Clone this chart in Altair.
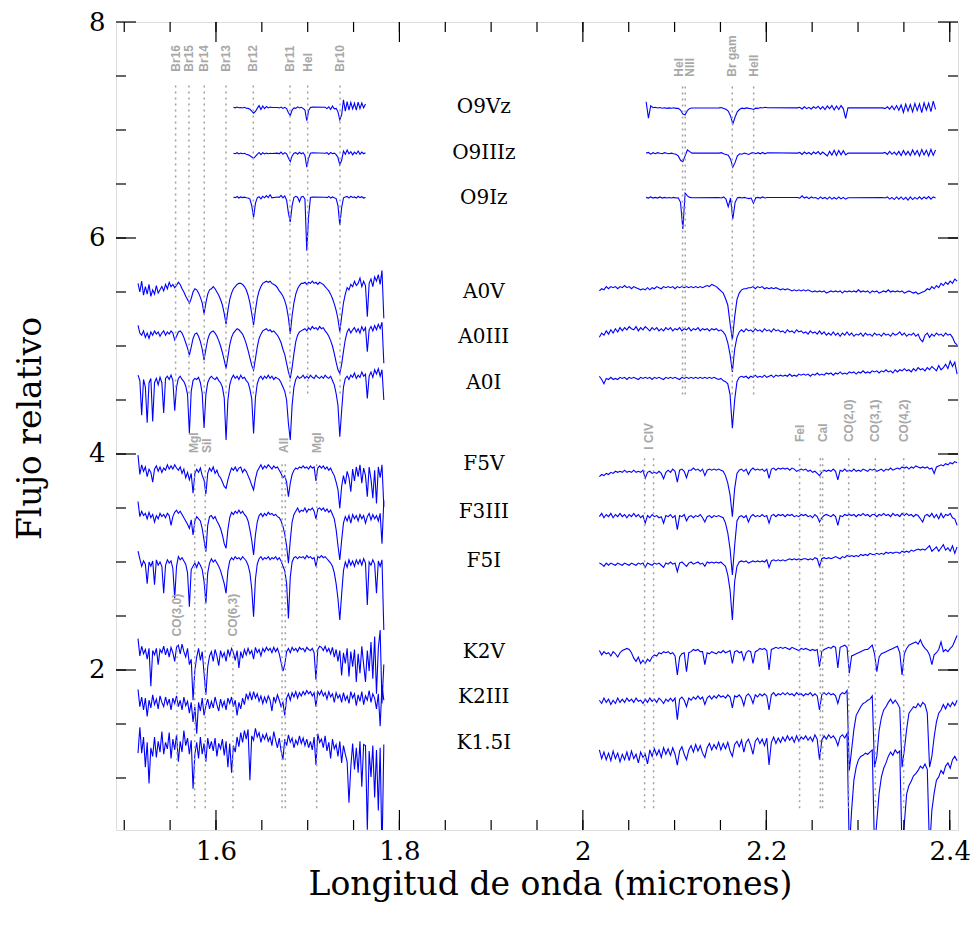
import altair as alt
import pandas as pd

# ---------------- wavelength grids (microns) ----------------
H_LAM = [
 1.515,1.517,1.519,1.521,1.523,1.525,1.527,1.529,1.531,1.533,
 1.535,1.537,1.539,1.541,1.543,1.545,1.547,1.549,1.551,1.553,
 1.555,1.557,1.559,1.561,1.563,1.565,1.567,1.569,1.571,1.573,
 1.575,1.577,1.579,1.581,1.583,1.585,1.587,1.589,1.591,1.593,
 1.595,1.597,1.599,1.601,1.603,1.605,1.607,1.609,1.611,1.613,
 1.615,1.617,1.619,1.621,1.623,1.625,1.627,1.629,1.631,1.633,
 1.635,1.637,1.639,1.641,1.643,1.645,1.647,1.649,1.651,1.653,
 1.655,1.657,1.659,1.661,1.663,1.665,1.667,1.669,1.671,1.673,
 1.675,1.677,1.679,1.681,1.683,1.685,1.687,1.689,1.691,1.693,
 1.695,1.697,1.699,1.701,1.703,1.705,1.707,1.709,1.711,1.713,
 1.715,1.717,1.719,1.721,1.723,1.725,1.727,1.729,1.731,1.733,
 1.735,1.737,1.739,1.741,1.743,1.745,1.747,1.749,1.751,1.753,
 1.755,1.757,1.759,1.761,1.763,1.765,1.767,1.769,1.771,1.773,
 1.775,1.777,1.779,1.781,1.783]

K_LAM = [
 2.018,2.0205,2.023,2.0255,2.028,2.0305,2.033,2.0355,2.038,2.0405,
 2.043,2.0455,2.048,2.0505,2.053,2.0555,2.058,2.0605,2.063,2.0655,
 2.068,2.0705,2.073,2.0755,2.078,2.0805,2.083,2.0855,2.088,2.0905,
 2.093,2.0955,2.098,2.1005,2.103,2.1055,2.108,2.1105,2.113,2.1155,
 2.118,2.1205,2.123,2.1255,2.128,2.1305,2.133,2.1355,2.138,2.1405,
 2.143,2.1455,2.148,2.1505,2.153,2.1555,2.158,2.1605,2.163,2.1655,
 2.168,2.1705,2.173,2.1755,2.178,2.1805,2.183,2.1855,2.188,2.1905,
 2.193,2.1955,2.198,2.2005,2.203,2.2055,2.208,2.2105,2.213,2.2155,
 2.218,2.2205,2.223,2.2255,2.228,2.2305,2.233,2.2355,2.238,2.2405,
 2.243,2.2455,2.248,2.2505,2.253,2.2555,2.258,2.2605,2.263,2.2655,
 2.268,2.2705,2.273,2.2755,2.278,2.2805,2.283,2.2855,2.288,2.2905,
 2.293,2.2955,2.298,2.3005,2.303,2.3055,2.308,2.3105,2.313,2.3155,
 2.318,2.3205,2.323,2.3255,2.328,2.3305,2.333,2.3355,2.338,2.3405,
 2.343,2.3455,2.348,2.3505,2.353,2.3555,2.358,2.3605,2.363,2.3655,
 2.368,2.3705,2.373,2.3755,2.378,2.3805,2.383,2.3855,2.388,2.3905,
 2.393,2.3955,2.398,2.4005,2.403,2.4055,2.408]

OH_LAM = [
 1.619,1.621,1.623,1.625,1.627,1.629,1.631,1.633,1.635,1.637,1.639,1.641,1.643,1.645,1.647,1.649,1.651,1.653,1.655,1.657,1.659,1.661,
 1.667,1.669,1.671,1.673,1.675,1.677,1.679,1.681,1.683,1.685,1.687,1.689,1.691,1.693,1.695,1.697,1.699,1.701,1.703,1.705,
 1.719,1.721,1.723,1.725,1.727,1.729,1.731,1.733,1.735,1.737,1.739,1.741,1.743,1.745,1.747,1.749,1.751,1.753,1.755,1.757,1.759,1.761,1.763]

OK_LAM = [
 2.069,2.0715,2.074,2.0765,2.079,2.0815,2.084,2.0865,2.089,2.0915,2.094,2.0965,2.099,2.1015,2.104,2.1065,2.109,2.1115,2.114,2.1165,2.119,
 2.1485,2.151,2.1535,2.156,2.1585,2.161,2.1635,2.166,2.1685,2.171,2.1735,2.176,2.1785,2.181,2.1835,2.186,2.1885,2.191,2.1935,2.196,2.1985,2.201,
 2.234,2.2365,2.239,2.2415,2.244,2.2465,2.249,2.2515,2.254,2.2565,2.259,2.2615,2.264,2.2665,2.269,2.2715,2.274,2.2765,2.279,2.2815,2.284,2.2865,2.289,
 2.327,2.3295,2.332,2.3345,2.337,2.3395,2.342,2.3445,2.347,2.3495,2.352,2.3545,2.357,2.3595,2.362,2.3645,2.367,2.3695,2.372,2.3745,2.377,2.3795,2.382,2.3845]

# ---------------- O stars (offset flux) ----------------
O9VZ_H = [
 7.210,7.205,7.212,7.206,7.208,7.204,7.210,7.202,7.200,7.192,7.175,7.155,7.172,7.200,7.225,7.190,7.222,7.198,7.218,7.204,7.212,7.208,
 7.208,7.204,7.212,7.200,7.210,7.198,7.160,7.135,7.185,7.205,7.200,7.214,7.204,7.210,7.200,7.185,7.086,7.180,7.208,7.212,
 7.210,7.198,7.215,7.190,7.222,7.196,7.200,7.168,7.095,7.140,7.280,7.175,7.262,7.185,7.255,7.195,7.248,7.185,7.258,7.198,7.250,7.205,7.240]
O9IIIZ_H = [
 6.785,6.780,6.790,6.778,6.786,6.780,6.784,6.776,6.770,6.762,6.750,6.738,6.755,6.775,6.792,6.772,6.790,6.778,6.786,6.780,6.785,6.782,
 6.786,6.780,6.795,6.775,6.790,6.780,6.740,6.707,6.760,6.785,6.790,6.776,6.794,6.780,6.790,6.765,6.655,6.740,6.785,6.790,
 6.785,6.790,6.774,6.792,6.780,6.786,6.772,6.745,6.676,6.720,6.805,6.775,6.815,6.780,6.800,6.770,6.795,6.778,6.805,6.775,6.795,6.780,6.790]
O9IZ_H = [
 6.378,6.374,6.384,6.370,6.380,6.374,6.378,6.372,6.370,6.360,6.300,6.190,6.320,6.372,6.382,6.362,6.386,6.372,6.392,6.374,6.400,6.372,
 6.380,6.376,6.394,6.372,6.390,6.350,6.230,6.148,6.300,6.375,6.386,6.378,6.336,6.380,6.386,6.360,5.883,6.200,6.375,6.380,
 6.378,6.374,6.385,6.370,6.380,6.372,6.365,6.300,6.120,6.280,6.372,6.380,6.385,6.370,6.386,6.375,6.380,6.370,6.386,6.374,6.382,6.370,6.376]

O9VZ_K = [
 7.262,7.110,7.225,7.206,7.210,7.204,7.208,7.202,7.206,7.200,7.205,7.202,7.206,7.200,7.200,7.185,7.148,7.140,7.180,7.200,7.204,
 7.205,7.208,7.200,7.192,7.175,7.130,7.056,7.120,7.170,7.192,7.202,7.198,7.205,7.200,7.196,7.190,7.202,7.200,7.208,7.204,7.210,7.206,
 7.205,7.210,7.195,7.215,7.198,7.210,7.195,7.215,7.200,7.220,7.194,7.216,7.190,7.222,7.198,7.226,7.186,7.222,7.190,7.226,7.196,7.108,7.205,
 7.205,7.198,7.215,7.194,7.222,7.188,7.226,7.184,7.232,7.162,7.240,7.175,7.236,7.168,7.246,7.180,7.242,7.160,7.252,7.185,7.248,7.170,7.268,7.190]
O9IIIZ_K = [
 6.786,6.792,6.776,6.790,6.780,6.790,6.784,6.780,6.790,6.784,6.780,6.786,6.780,6.776,6.760,6.720,6.707,6.760,6.815,6.800,6.786,
 6.786,6.790,6.780,6.774,6.766,6.730,6.655,6.700,6.760,6.780,6.776,6.786,6.780,6.774,6.786,6.790,6.780,6.790,6.780,6.792,6.780,6.790,
 6.786,6.792,6.774,6.796,6.780,6.792,6.774,6.796,6.780,6.800,6.774,6.796,6.778,6.760,6.802,6.768,6.812,6.764,6.810,6.770,6.808,6.770,6.786,
 6.786,6.792,6.774,6.802,6.775,6.796,6.770,6.802,6.764,6.810,6.770,6.802,6.764,6.815,6.770,6.810,6.760,6.820,6.770,6.812,6.760,6.820,6.765,6.815]
O9IZ_K = [
 6.376,6.370,6.380,6.370,6.376,6.370,6.380,6.370,6.376,6.370,6.375,6.370,6.376,6.370,6.372,6.330,6.083,6.415,6.390,6.376,6.372,
 6.375,6.370,6.380,6.360,6.290,6.370,6.176,6.330,6.372,6.376,6.370,6.376,6.370,6.365,6.370,6.320,6.372,6.376,6.370,6.380,6.370,6.375,
 6.375,6.370,6.390,6.370,6.380,6.365,6.380,6.370,6.375,6.360,6.380,6.365,6.375,6.360,6.380,6.360,6.375,6.360,6.380,6.362,6.376,6.360,6.372,
 6.375,6.370,6.380,6.360,6.376,6.356,6.380,6.360,6.380,6.356,6.376,6.350,6.380,6.356,6.376,6.360,6.382,6.360,6.380,6.364,6.384,6.360,6.380,6.370]

# ---------------- A stars ----------------
A0V_H = [
 5.58,5.50,5.60,5.47,5.55,5.48,5.57,5.46,5.52,5.48,
 5.56,5.49,5.52,5.55,5.51,5.57,5.53,5.59,5.55,5.57,
 5.54,5.56,5.59,5.57,5.53,5.50,5.46,5.43,5.395,5.44,
 5.50,5.53,5.52,5.49,5.45,5.40,5.30,5.40,5.48,5.52,
 5.53,5.55,5.53,5.50,5.47,5.43,5.38,5.30,5.203,5.33,
 5.43,5.49,5.53,5.55,5.57,5.58,5.58,5.57,5.55,5.52,
 5.47,5.40,5.30,5.194,5.33,5.44,5.51,5.55,5.58,5.59,
 5.60,5.59,5.60,5.58,5.57,5.56,5.54,5.51,5.49,5.46,
 5.42,5.36,5.26,5.111,5.28,5.40,5.48,5.53,5.56,5.58,
 5.58,5.59,5.57,5.59,5.58,5.60,5.58,5.59,5.57,5.59,
 5.58,5.57,5.55,5.53,5.51,5.48,5.44,5.39,5.33,5.25,
 5.132,5.27,5.40,5.48,5.54,5.52,5.57,5.55,5.60,5.56,
 5.58,5.63,5.55,5.60,5.56,5.271,5.58,5.62,5.55,5.64,
 5.60,5.66,5.57,5.70,5.256]
A0III_H = [
 5.19,5.12,5.10,5.14,5.08,5.12,5.07,5.13,5.10,5.14,
 5.11,5.13,5.09,5.12,5.14,5.10,5.13,5.11,5.14,5.12,
 5.056,5.09,5.13,5.14,5.12,5.08,5.03,4.98,4.916,4.99,
 5.07,5.11,5.12,5.09,5.04,4.97,4.87,4.97,5.06,5.11,
 5.13,5.14,5.12,5.09,5.05,5.00,4.94,4.87,4.793,4.90,
 5.01,5.08,5.12,5.14,5.16,5.15,5.13,5.11,5.07,5.02,
 4.96,4.89,4.82,4.777,4.88,4.99,5.07,5.11,5.14,5.15,
 5.16,5.14,5.15,5.13,5.14,5.12,5.10,5.07,5.03,4.97,
 4.92,4.84,4.76,4.70,4.80,4.93,5.04,5.10,5.13,5.14,
 5.15,5.16,5.14,5.17,5.15,5.18,5.16,5.17,5.15,5.18,
 5.16,5.17,5.14,5.12,5.09,5.05,5.00,4.93,4.85,4.78,
 4.747,4.83,4.95,5.06,5.13,5.16,5.12,5.15,5.17,5.13,
 5.16,5.12,5.18,5.14,5.17,4.947,5.15,5.18,5.14,5.19,
 5.15,5.20,5.16,5.22,4.84]
A0I_H = [
 4.73,4.68,4.36,4.69,4.62,4.29,4.66,4.70,4.30,4.66,
 4.70,4.64,4.71,4.66,4.38,4.70,4.72,4.69,4.73,4.68,
 4.40,4.62,4.70,4.72,4.69,4.67,4.63,4.55,4.19,4.58,
 4.68,4.70,4.69,4.71,4.66,4.56,4.24,4.55,4.66,4.70,
 4.72,4.70,4.69,4.71,4.68,4.66,4.62,4.52,4.13,4.50,
 4.64,4.70,4.73,4.70,4.72,4.69,4.73,4.70,4.71,4.68,
 4.66,4.60,4.51,4.19,4.52,4.65,4.70,4.72,4.69,4.72,
 4.70,4.73,4.70,4.72,4.69,4.71,4.70,4.69,4.66,4.62,
 4.58,4.50,4.28,4.13,4.45,4.62,4.69,4.72,4.70,4.71,
 4.73,4.70,4.72,4.70,4.73,4.71,4.70,4.73,4.71,4.70,
 4.72,4.70,4.73,4.71,4.70,4.72,4.68,4.64,4.56,4.45,
 4.16,4.40,4.62,4.70,4.72,4.69,4.73,4.71,4.75,4.70,
 4.73,4.71,4.76,4.72,4.74,4.515,4.72,4.76,4.71,4.78,
 4.74,4.79,4.72,4.78,4.50]
A0V_K = [
 5.51,5.53,5.52,5.55,5.53,5.55,5.54,5.55,5.53,5.55,
 5.54,5.56,5.54,5.55,5.53,5.55,5.54,5.53,5.52,5.53,
 5.52,5.54,5.52,5.54,5.53,5.55,5.54,5.53,5.55,5.54,
 5.55,5.54,5.55,5.53,5.55,5.54,5.55,5.54,5.55,5.54,
 5.55,5.54,5.55,5.54,5.55,5.54,5.55,5.56,5.55,5.57,
 5.56,5.55,5.53,5.51,5.49,5.44,5.38,5.21,5.056,5.27,
 5.43,5.49,5.52,5.53,5.53,5.54,5.54,5.55,5.53,5.55,
 5.54,5.55,5.53,5.54,5.53,5.54,5.53,5.54,5.53,5.52,
 5.53,5.52,5.53,5.52,5.51,5.52,5.51,5.52,5.51,5.52,
 5.51,5.52,5.51,5.50,5.51,5.50,5.51,5.50,5.51,5.49,
 5.50,5.51,5.50,5.51,5.50,5.51,5.49,5.51,5.50,5.51,
 5.50,5.51,5.50,5.52,5.50,5.51,5.50,5.51,5.49,5.51,
 5.50,5.51,5.49,5.50,5.51,5.50,5.52,5.50,5.51,5.50,
 5.51,5.50,5.51,5.49,5.50,5.51,5.50,5.49,5.50,5.48,
 5.49,5.50,5.51,5.53,5.52,5.55,5.53,5.56,5.54,5.58,
 5.56,5.59,5.57,5.60,5.58,5.62,5.60]
A0III_K = [
 5.08,5.12,5.10,5.14,5.11,5.15,5.12,5.16,5.13,5.17,
 5.14,5.17,5.15,5.18,5.16,5.15,5.18,5.14,5.17,5.15,
 5.18,5.16,5.14,5.17,5.15,5.17,5.14,5.16,5.14,5.17,
 5.15,5.17,5.14,5.16,5.15,5.17,5.14,5.16,5.15,5.17,
 5.14,5.16,5.15,5.17,5.14,5.16,5.15,5.16,5.14,5.16,
 5.15,5.16,5.14,5.15,5.13,5.10,5.03,4.92,4.76,4.97,
 5.08,5.13,5.15,5.13,5.16,5.14,5.15,5.13,5.16,5.14,
 5.15,5.13,5.16,5.14,5.15,5.13,5.16,5.14,5.15,5.13,
 5.14,5.12,5.15,5.13,5.14,5.12,5.15,5.13,5.14,5.12,
 5.13,5.11,5.14,5.12,5.13,5.11,5.14,5.11,5.13,5.10,
 5.12,5.10,5.13,5.10,5.12,5.09,5.12,5.10,5.13,5.10,
 5.12,5.09,5.11,5.10,5.12,5.09,5.12,5.10,5.11,5.09,
 5.12,5.10,5.11,5.09,5.12,5.10,5.11,5.09,5.12,5.10,
 5.11,5.13,5.10,5.12,5.09,5.11,5.10,5.12,5.09,5.11,
 5.06,5.04,5.10,5.12,5.08,5.11,5.09,5.12,5.10,5.11,
 5.09,5.12,5.10,5.11,5.08,5.03,5.01]
A0I_K = [
 4.72,4.69,4.65,4.70,4.69,4.71,4.69,4.70,4.69,4.71,
 4.70,4.71,4.69,4.71,4.70,4.71,4.70,4.69,4.71,4.70,
 4.71,4.70,4.71,4.69,4.71,4.70,4.71,4.70,4.69,4.71,
 4.70,4.71,4.70,4.71,4.70,4.69,4.71,4.70,4.71,4.70,
 4.71,4.70,4.71,4.70,4.71,4.70,4.71,4.70,4.71,4.70,
 4.71,4.70,4.69,4.70,4.68,4.67,4.65,4.55,4.238,4.50,
 4.67,4.71,4.72,4.71,4.72,4.70,4.72,4.71,4.73,4.71,
 4.72,4.71,4.73,4.71,4.72,4.73,4.71,4.73,4.72,4.73,
 4.72,4.73,4.72,4.74,4.72,4.73,4.72,4.74,4.73,4.74,
 4.73,4.74,4.72,4.74,4.73,4.75,4.73,4.74,4.73,4.75,
 4.74,4.75,4.73,4.75,4.74,4.76,4.74,4.75,4.74,4.76,
 4.75,4.76,4.74,4.76,4.75,4.77,4.75,4.76,4.75,4.77,
 4.76,4.77,4.75,4.77,4.76,4.78,4.76,4.77,4.75,4.78,
 4.76,4.78,4.77,4.79,4.77,4.78,4.76,4.79,4.77,4.80,
 4.78,4.79,4.77,4.80,4.78,4.81,4.79,4.77,4.82,4.78,
 4.80,4.83,4.79,4.86,4.81,4.85,4.74]

# ---------------- F stars ----------------
F5V_H = [
 3.99,3.81,3.90,3.84,3.88,3.79,3.86,3.83,3.74,3.86,
 3.89,3.84,3.88,3.83,3.87,3.85,3.90,3.86,3.89,3.86,
 3.90,3.87,3.85,3.88,3.82,3.86,3.78,3.83,3.76,3.82,
 3.636,3.82,3.86,3.83,3.87,3.80,3.76,3.63,3.82,3.87,
 3.84,3.88,3.82,3.85,3.80,3.78,3.74,3.70,3.682,3.76,
 3.82,3.87,3.85,3.88,3.84,3.87,3.88,3.83,3.86,3.84,
 3.80,3.76,3.71,3.667,3.77,3.84,3.87,3.90,3.86,3.89,
 3.87,3.90,3.88,3.86,3.89,3.87,3.88,3.85,3.82,3.78,
 3.80,3.74,3.605,3.73,3.81,3.85,3.87,3.86,3.88,3.87,
 3.89,3.87,3.88,3.86,3.89,3.87,3.88,3.75,3.87,3.89,
 3.87,3.89,3.86,3.88,3.85,3.87,3.83,3.80,3.74,3.67,
 3.497,3.70,3.80,3.72,3.84,3.78,3.651,3.86,3.75,3.88,
 3.79,3.90,3.73,3.87,3.80,3.605,3.88,3.77,3.59,3.85,
 3.543,3.88,3.78,3.90,3.512]
F3III_H = [
 3.56,3.42,3.47,3.43,3.45,3.40,3.46,3.41,3.44,3.37,
 3.43,3.40,3.45,3.42,3.44,3.41,3.45,3.43,3.34,3.42,
 3.46,3.48,3.45,3.47,3.44,3.41,3.38,3.35,3.31,3.39,
 3.25,3.38,3.42,3.40,3.38,3.31,3.20,3.096,3.34,3.42,
 3.43,3.40,3.42,3.38,3.35,3.31,3.25,3.17,3.127,3.30,
 3.41,3.46,3.44,3.47,3.45,3.48,3.45,3.47,3.44,3.42,
 3.38,3.30,3.20,3.065,3.25,3.37,3.43,3.45,3.42,3.45,
 3.43,3.46,3.44,3.45,3.43,3.44,3.42,3.41,3.38,3.33,
 3.26,3.15,2.988,3.20,3.37,3.44,3.47,3.50,3.46,3.48,
 3.47,3.50,3.46,3.49,3.48,3.50,3.47,3.40,3.49,3.50,
 3.48,3.50,3.47,3.49,3.46,3.48,3.44,3.40,3.30,3.15,
 3.02,3.20,3.36,3.42,3.38,3.43,3.36,3.44,3.40,3.43,
 3.38,3.44,3.40,3.43,3.36,3.42,3.45,3.39,3.44,3.40,
 3.43,3.38,3.45,3.17,3.57]
F5I_H = [
 3.10,3.03,2.96,3.01,2.98,2.80,3.00,2.96,3.01,2.79,
 3.02,2.97,3.00,2.96,2.71,2.97,3.02,2.99,3.01,2.94,
 2.664,2.96,3.05,3.02,3.04,3.01,2.98,2.90,2.586,2.93,
 2.96,2.99,2.95,3.00,2.97,2.93,2.82,2.617,2.90,2.99,
 3.03,3.00,3.02,2.99,2.96,2.92,2.86,2.80,2.71,2.92,
 3.01,3.04,3.02,3.05,3.03,3.04,3.02,3.05,3.03,3.01,
 2.97,2.90,2.75,2.494,2.84,2.98,3.03,3.05,3.02,3.04,
 3.03,3.05,3.02,3.04,3.03,3.05,3.02,3.04,3.01,2.96,
 2.92,2.80,2.478,2.86,3.00,3.04,3.05,3.03,3.05,3.04,
 3.05,3.03,3.06,3.04,3.05,3.03,3.04,2.96,3.05,3.04,
 3.06,3.04,3.05,3.03,3.01,2.99,2.96,2.90,2.80,2.66,
 2.463,2.70,2.92,3.00,2.95,3.02,2.97,3.01,2.96,3.02,
 2.98,3.02,2.97,3.03,2.99,2.602,3.00,2.97,3.02,2.98,
 2.71,3.01,2.96,3.02,2.37]
F5V_K = [
 3.79,3.81,3.80,3.82,3.81,3.83,3.82,3.84,3.83,3.84,
 3.83,3.85,3.83,3.84,3.83,3.85,3.83,3.84,3.83,3.85,
 3.775,3.83,3.84,3.82,3.83,3.82,3.84,3.82,3.77,3.83,
 3.85,3.83,3.86,3.84,3.74,3.85,3.86,3.84,3.78,3.85,
 3.85,3.87,3.85,3.86,3.84,3.86,3.80,3.85,3.86,3.85,
 3.86,3.85,3.86,3.85,3.84,3.80,3.73,3.62,3.42,3.68,
 3.82,3.85,3.86,3.84,3.86,3.81,3.85,3.87,3.85,3.86,
 3.85,3.86,3.84,3.86,3.775,3.86,3.87,3.85,3.87,3.86,
 3.87,3.86,3.87,3.85,3.87,3.86,3.84,3.85,3.86,3.85,
 3.86,3.84,3.85,3.83,3.84,3.82,3.80,3.83,3.85,3.84,
 3.85,3.84,3.86,3.84,3.76,3.85,3.84,3.86,3.84,3.85,
 3.84,3.86,3.84,3.85,3.84,3.86,3.85,3.84,3.86,3.85,
 3.86,3.84,3.85,3.86,3.84,3.86,3.85,3.87,3.85,3.86,
 3.87,3.86,3.88,3.87,3.88,3.86,3.88,3.87,3.89,3.88,
 3.87,3.88,3.87,3.88,3.86,3.87,3.82,3.88,3.89,3.90,
 3.89,3.91,3.90,3.92,3.91,3.93,3.92]
F3III_K = [
 3.42,3.45,3.41,3.44,3.42,3.45,3.41,3.44,3.42,3.45,
 3.42,3.44,3.41,3.44,3.42,3.45,3.42,3.44,3.41,3.43,
 3.36,3.43,3.41,3.44,3.42,3.43,3.41,3.42,3.36,3.43,
 3.42,3.44,3.41,3.43,3.30,3.43,3.42,3.44,3.38,3.42,
 3.43,3.41,3.43,3.42,3.44,3.41,3.37,3.42,3.43,3.41,
 3.43,3.42,3.43,3.42,3.41,3.36,3.27,3.12,2.88,3.15,
 3.38,3.42,3.43,3.41,3.43,3.37,3.42,3.44,3.42,3.43,
 3.42,3.44,3.42,3.43,3.36,3.43,3.44,3.42,3.44,3.43,
 3.44,3.42,3.44,3.43,3.44,3.42,3.43,3.42,3.44,3.43,
 3.44,3.42,3.43,3.41,3.44,3.42,3.37,3.41,3.43,3.44,
 3.43,3.42,3.44,3.42,3.34,3.43,3.42,3.44,3.43,3.44,
 3.43,3.44,3.42,3.44,3.43,3.45,3.43,3.44,3.42,3.44,
 3.44,3.42,3.44,3.43,3.45,3.43,3.44,3.42,3.45,3.43,
 3.44,3.42,3.45,3.43,3.45,3.43,3.44,3.42,3.44,3.43,
 3.40,3.37,3.43,3.44,3.42,3.45,3.41,3.44,3.40,3.45,
 3.41,3.44,3.43,3.45,3.41,3.40,3.34]
F5I_K = [
 2.99,2.98,2.96,2.99,2.97,2.99,2.98,2.97,2.99,2.98,
 2.97,2.99,2.98,2.97,2.99,2.98,2.97,2.99,2.98,2.99,
 2.95,2.99,2.98,2.97,2.99,2.98,2.99,2.97,2.95,2.99,
 2.98,3.00,2.98,2.99,2.91,2.99,3.00,2.98,2.96,2.99,
 3.00,2.98,2.99,3.00,2.98,2.99,2.96,3.00,2.99,3.00,
 2.99,3.00,2.99,3.00,2.98,2.96,2.88,2.74,2.463,2.82,
 2.96,3.00,3.01,3.00,3.01,2.99,3.00,3.01,3.00,3.01,
 3.00,3.01,3.00,3.02,2.95,3.01,3.02,3.01,3.02,3.01,
 3.02,3.01,3.02,3.03,3.02,3.03,3.02,3.03,3.02,3.03,
 3.03,3.02,3.03,3.02,3.04,3.03,2.96,3.03,3.04,3.03,
 3.04,3.03,3.04,3.05,3.04,3.03,3.05,3.04,3.06,3.05,
 3.06,3.05,3.06,3.05,3.07,3.06,3.07,3.06,3.08,3.07,
 3.07,3.08,3.07,3.08,3.07,3.09,3.08,3.09,3.08,3.09,
 3.09,3.08,3.10,3.09,3.10,3.09,3.11,3.10,3.11,3.12,
 3.11,3.12,3.11,3.13,3.15,3.10,3.12,3.14,3.10,3.13,
 3.16,3.11,3.13,3.10,3.15,3.08,3.14]

# ---------------- K stars ----------------
K2V_H = [
 2.29,2.13,2.22,2.15,2.19,2.10,2.20,1.85,2.18,2.14,
 2.20,2.05,2.19,2.16,2.22,2.14,2.20,2.12,2.21,2.16,
 2.08,2.21,2.23,2.15,2.24,2.17,2.12,2.20,2.05,2.10,
 1.72,2.00,2.12,2.20,2.09,2.17,1.97,1.77,2.03,2.13,
 2.17,2.08,2.19,2.13,2.04,2.18,2.12,2.16,2.08,2.19,
 2.13,2.20,2.16,2.09,2.18,2.02,2.17,2.11,2.19,2.14,
 2.20,2.15,2.18,2.10,2.21,2.16,2.19,2.13,2.20,2.17,
 2.21,2.18,2.20,2.16,2.21,2.17,2.20,2.15,2.07,1.99,
 2.05,2.17,2.20,2.16,2.21,2.18,2.20,2.17,2.21,2.19,
 2.20,2.17,2.21,2.19,2.18,2.20,2.16,1.91,2.19,2.22,
 2.21,2.18,2.22,2.17,2.20,2.15,2.21,2.12,2.19,2.08,
 2.18,1.95,2.16,2.06,2.20,1.94,2.17,2.03,2.19,1.89,
 2.15,1.97,2.22,2.05,1.89,2.18,1.99,2.26,1.92,2.31,
 1.78,2.20,2.37,1.69,2.05]
K2III_H = [
 1.82,1.66,1.75,1.63,1.74,1.57,1.72,1.65,1.77,1.68,
 1.73,1.64,1.76,1.70,1.66,1.75,1.68,1.73,1.63,1.74,
 1.69,1.76,1.66,1.72,1.63,1.75,1.67,1.71,1.60,1.70,
 1.52,1.66,1.41,1.70,1.62,1.74,1.58,1.67,1.73,1.64,
 1.71,1.65,1.75,1.68,1.62,1.73,1.66,1.71,1.63,1.74,
 1.69,1.75,1.66,1.72,1.58,1.70,1.64,1.74,1.68,1.78,
 1.73,1.79,1.72,1.80,1.74,1.78,1.71,1.76,1.69,1.75,
 1.70,1.76,1.72,1.62,1.75,1.70,1.77,1.72,1.66,1.70,
 1.58,1.74,1.78,1.72,1.79,1.75,1.80,1.74,1.79,1.76,
 1.80,1.77,1.81,1.78,1.80,1.76,1.79,1.66,1.80,1.77,
 1.81,1.76,1.79,1.73,1.80,1.75,1.78,1.70,1.79,1.74,
 1.77,1.70,1.79,1.72,1.76,1.69,1.80,1.74,1.78,1.67,
 1.77,1.71,1.80,1.68,1.76,1.72,1.81,1.70,1.78,1.74,
 1.64,1.78,1.48,1.86,1.72]
K15I_H = [
 1.23,1.47,1.23,1.38,1.10,1.33,0.95,1.28,1.20,1.38,
 1.19,1.34,1.24,1.43,1.22,1.33,1.27,1.42,1.18,1.36,
 1.26,1.40,1.15,1.34,1.24,1.44,1.30,1.37,1.22,1.35,
 0.90,1.22,1.33,1.18,1.38,1.22,1.32,1.15,1.37,1.27,
 1.34,1.25,1.37,1.20,1.32,1.27,1.36,1.21,1.34,1.10,
 1.32,1.05,1.30,1.24,1.38,1.29,1.42,1.33,1.44,1.36,
 1.45,0.98,1.39,1.35,1.46,1.38,1.42,1.33,1.40,1.36,
 1.41,1.34,1.38,1.30,1.43,1.35,1.28,1.37,1.25,1.17,
 1.36,1.30,1.40,1.33,1.37,1.28,1.35,1.31,1.39,1.32,
 1.37,1.30,1.36,1.28,1.34,1.26,1.38,1.12,1.41,1.33,
 1.36,1.28,1.39,1.25,1.33,1.18,1.36,1.27,1.31,1.20,
 1.34,1.14,1.30,1.22,1.15,0.77,1.10,1.32,1.08,1.28,
 1.05,1.34,0.92,1.31,1.30,0.52,1.25,1.01,1.30,0.82,
 1.26,0.70,1.28,0.30,1.31]
K2V_K = [
 2.18,2.14,2.17,2.15,2.16,2.13,2.17,2.15,2.12,2.16,
 2.18,2.19,2.20,2.19,2.16,2.11,2.08,2.12,2.06,2.09,
 2.06,2.10,2.08,2.12,2.14,2.13,2.16,2.15,2.17,2.16,
 2.17,2.15,2.16,2.13,1.954,2.12,2.15,2.16,1.985,2.16,
 2.17,2.19,2.18,2.19,2.17,2.17,2.05,2.16,2.15,2.17,
 2.16,2.15,2.17,2.16,2.18,2.16,2.17,2.18,2.06,2.17,
 2.18,2.16,2.17,2.09,2.16,2.18,2.17,2.06,2.17,2.18,
 2.20,2.19,2.20,2.18,2.00,2.19,2.20,2.21,2.20,2.21,
 2.20,2.21,2.20,2.19,2.21,2.20,2.19,2.18,2.20,2.19,
 2.20,2.19,2.18,2.19,2.18,2.19,2.03,2.17,2.19,2.20,
 2.21,2.20,2.22,2.21,2.02,2.21,2.22,2.23,2.21,1.97,
 2.13,2.14,2.15,2.16,2.17,2.18,2.19,2.19,2.21,2.23,
 2.15,1.985,2.12,2.15,2.16,2.17,2.18,2.19,2.20,2.21,
 2.22,2.16,1.954,2.15,2.20,2.23,2.24,2.25,2.26,2.24,
 2.28,2.23,2.20,2.18,2.14,2.05,2.14,2.16,2.19,2.26,
 2.17,2.19,2.17,2.20,2.22,2.27,2.32]
K2III_K = [
 1.72,1.69,1.74,1.70,1.73,1.68,1.72,1.69,1.74,1.70,
 1.73,1.70,1.74,1.71,1.73,1.70,1.74,1.71,1.72,1.69,
 1.73,1.70,1.74,1.71,1.73,1.70,1.74,1.72,1.69,1.73,
 1.71,1.74,1.71,1.74,1.54,1.73,1.75,1.72,1.66,1.74,
 1.72,1.75,1.73,1.76,1.73,1.75,1.68,1.74,1.76,1.73,
 1.76,1.74,1.77,1.75,1.76,1.74,1.77,1.75,1.65,1.76,
 1.75,1.77,1.74,1.67,1.76,1.78,1.75,1.69,1.77,1.75,
 1.78,1.76,1.78,1.76,1.63,1.77,1.79,1.76,1.78,1.77,
 1.79,1.77,1.79,1.77,1.78,1.76,1.79,1.77,1.78,1.76,
 1.78,1.77,1.79,1.76,1.78,1.76,1.63,1.77,1.79,1.77,
 1.79,1.77,1.78,1.76,1.69,1.77,1.79,1.78,1.81,1.07,
 1.26,1.45,1.58,1.62,1.66,1.69,1.70,1.72,1.73,1.76,
 1.10,1.20,1.44,1.56,1.63,1.66,1.70,1.73,1.69,1.72,
 1.69,1.65,1.10,1.26,1.45,1.60,1.63,1.66,1.65,1.69,
 1.66,1.70,1.68,1.60,1.10,1.20,1.38,1.52,1.60,1.63,
 1.68,1.64,1.69,1.66,1.70,1.67,1.72]
K15I_K = [
 1.26,1.18,1.24,1.17,1.23,1.16,1.25,1.18,1.23,1.15,
 1.22,1.17,1.24,1.16,1.25,1.18,1.22,1.14,1.24,1.19,
 1.22,1.13,1.26,1.20,1.27,1.21,1.26,1.19,1.28,1.22,
 1.27,1.21,1.28,1.22,1.12,1.25,1.29,1.22,1.17,1.26,
 1.30,1.24,1.31,1.25,1.30,1.23,1.19,1.28,1.32,1.26,
 1.31,1.27,1.33,1.26,1.32,1.27,1.33,1.25,1.20,1.31,
 1.34,1.29,1.35,1.24,1.33,1.36,1.30,1.22,1.34,1.37,
 1.32,1.36,1.30,1.37,1.12,1.33,1.38,1.32,1.37,1.33,
 1.38,1.34,1.39,1.35,1.38,1.33,1.39,1.34,1.38,1.36,
 1.39,1.35,1.38,1.34,1.40,1.36,1.17,1.35,1.39,1.36,
 1.40,1.37,1.39,1.36,1.30,1.38,1.40,1.37,1.41,0.33,
 0.70,0.98,1.10,1.17,1.20,1.21,1.23,1.22,1.24,1.26,
 0.33,0.60,0.86,1.01,1.09,1.14,1.20,1.24,1.21,1.26,
 1.23,1.25,0.33,0.58,0.85,0.93,0.97,1.02,1.04,1.07,
 1.11,1.09,1.13,1.08,0.33,0.70,0.86,0.98,1.01,1.07,
 1.04,1.11,1.14,1.09,1.17,1.20,1.16]

# ---------------- labels ----------------
SPEC_NAMES = ["O9Vz", "O9IIIz", "O9Iz", "A0V", "A0III", "A0I",
              "F5V", "F3III", "F5I", "K2V", "K2III", "K1.5I"]
NAME_Y = [7.213, 6.79, 6.37, 5.50, 5.08, 4.66, 3.91, 3.46, 3.01, 2.17, 1.75, 1.324]
NAME_X = 1.892

UP_H_LINES = [1.556, 1.5705, 1.5872, 1.6109, 1.6407, 1.6807, 1.700, 1.7353]
UP_H_TEXT = ["Br16", "Br15", "Br14", "Br13", "Br12", "Br11", "HeI", "Br10"]
UP_K_LINES = [2.1087, 2.1116, 2.1629, 2.1862]
UP_K_TEXT = ["HeI", "NIII", "Br gam", "HeII"]
UP_K_TEXT_X = [2.105, 2.1163, 2.1625, 2.1862]
MID_H_LINES = [1.5768, 1.5883, 1.672, 1.6756, 1.7098]
MID_H_TEXT = ["MgI", "SiI", "AlI", "MgI"]
MID_H_TEXT_X = [1.5755, 1.5899, 1.6738, 1.7098]
CO_H_LINES = [1.5575, 1.6185]
CO_H_TEXT = ["CO(3,0)", "CO(6,3)"]
MID_K_LINES = [2.0673, 2.0771, 2.2363, 2.2589, 2.2614, 2.2898, 2.3189, 2.3498]
MID_K_TEXT = ["I CIV", "FeI", "CaI", "CO(2,0)", "CO(3,1)", "CO(4,2)"]
MID_K_TEXT_X = [2.0716, 2.2363, 2.2614, 2.2898, 2.3189, 2.3498]

X_MAJOR = [1.6, 1.8, 2.0, 2.2, 2.4]
X_MINOR = [1.5, 1.55, 1.6, 1.65, 1.7, 1.75, 1.8, 1.85, 1.9, 1.95, 2.0,
           2.05, 2.1, 2.15, 2.2, 2.25, 2.3, 2.35, 2.4]
Y_MAJOR = [2, 4, 6, 8]
Y_MINOR = [1.0, 1.5, 2.0, 2.5, 3.0, 3.5, 4.0, 4.5, 5.0, 5.5, 6.0, 6.5, 7.0, 7.5]

# ---------------- build tables ----------------
spectra = [
    ("O9Vz", "H", OH_LAM, O9VZ_H), ("O9IIIz", "H", OH_LAM, O9IIIZ_H), ("O9Iz", "H", OH_LAM, O9IZ_H),
    ("O9Vz", "K", OK_LAM, O9VZ_K), ("O9IIIz", "K", OK_LAM, O9IIIZ_K), ("O9Iz", "K", OK_LAM, O9IZ_K),
    ("A0V", "H", H_LAM, A0V_H), ("A0III", "H", H_LAM, A0III_H), ("A0I", "H", H_LAM, A0I_H),
    ("A0V", "K", K_LAM, A0V_K), ("A0III", "K", K_LAM, A0III_K), ("A0I", "K", K_LAM, A0I_K),
    ("F5V", "H", H_LAM, F5V_H), ("F3III", "H", H_LAM, F3III_H), ("F5I", "H", H_LAM, F5I_H),
    ("F5V", "K", K_LAM, F5V_K), ("F3III", "K", K_LAM, F3III_K), ("F5I", "K", K_LAM, F5I_K),
    ("K2V", "H", H_LAM, K2V_H), ("K2III", "H", H_LAM, K2III_H), ("K1.5I", "H", H_LAM, K15I_H),
    ("K2V", "K", K_LAM, K2V_K), ("K2III", "K", K_LAM, K2III_K), ("K1.5I", "K", K_LAM, K15I_K),
]
rows = []
for name, band, lams, flux in spectra:
    if len(lams) != len(flux):
        raise ValueError(f"{name} {band}: {len(lams)} vs {len(flux)}")
    for i, (l, f) in enumerate(zip(lams, flux)):
        rows.append({"seg": f"{name}-{band}", "i": i, "lam": l, "flux": f})
spec_df = pd.DataFrame(rows)

rules = []
for l in UP_H_LINES:
    rules.append({"lam": l, "flux": 4.56, "y2": 7.44})
for l in UP_K_LINES:
    rules.append({"lam": l, "flux": 4.55, "y2": 7.43})
for l in MID_H_LINES:
    rules.append({"lam": l, "flux": 0.72, "y2": 3.93})
for l in CO_H_LINES:
    rules.append({"lam": l, "flux": 0.72, "y2": 2.23})
for l in MID_K_LINES:
    rules.append({"lam": l, "flux": 0.72, "y2": 3.99})
rule_df = pd.DataFrame(rules)

labels = []
for l, t in zip(UP_H_LINES, UP_H_TEXT):
    labels.append({"lam": l, "flux": 7.54, "t": t})
for l, t in zip(UP_K_TEXT_X, UP_K_TEXT):
    labels.append({"lam": l, "flux": 7.494, "t": t})
for l, t in zip(MID_H_TEXT_X, MID_H_TEXT):
    labels.append({"lam": l, "flux": 4.009, "t": t})
for l, t in zip(CO_H_LINES, CO_H_TEXT):
    labels.append({"lam": l, "flux": 2.31, "t": t})
for l, t in zip(MID_K_TEXT_X, MID_K_TEXT):
    labels.append({"lam": l, "flux": 4.04 if t == "I CIV" else 4.11, "t": t})
label_df = pd.DataFrame(labels)

name_df = pd.DataFrame({"lam": [NAME_X] * len(SPEC_NAMES), "flux": NAME_Y, "t": SPEC_NAMES})

W, H = 842, 808
xs = alt.Scale(domain=[1.491, 2.409], nice=False, zero=False)
ys = alt.Scale(domain=[0.5185, 8.0], nice=False, zero=False)
SERIF = "DejaVu Serif"

X_AXIS = alt.Axis(
    values=X_MAJOR, format="~g", ticks=False, domain=False, grid=False, tickSize=0,
    labelFont=SERIF, labelFontSize=26, labelColor="black", labelPadding=8,
    title="Longitud de onda (micrones)", titleFont=SERIF, titleFontSize=33,
    titleFontWeight="normal", titleColor="black", titleX=434, titleY=54,
    titleBaseline="middle", titleAlign="center")
Y_AXIS = alt.Axis(
    values=Y_MAJOR, format="d", ticks=False, domain=False, grid=False, tickSize=0,
    labelFont=SERIF, labelFontSize=26, labelColor="black", labelPadding=11,
    title="Flujo relativo", titleFont=SERIF, titleFontSize=33,
    titleFontWeight="normal", titleColor="black", titleX=-86, titleY=406,
    titleAngle=270, titleBaseline="middle", titleAlign="center")

def X(field):
    return alt.X(field, scale=xs, axis=X_AXIS, title="Longitud de onda (micrones)")

def Y(field):
    return alt.Y(field, scale=ys, axis=Y_AXIS, title="Flujo relativo")

spec = alt.Chart(spec_df).mark_line(color="#0000ff", strokeWidth=1.1, clip=True).encode(
    x=X("lam:Q"), y=Y("flux:Q"), detail="seg:N", order="i:Q",
)

dotted = alt.Chart(rule_df).mark_rule(color="#a0a0a0", strokeWidth=1.5, strokeDash=[2, 4]).encode(
    x=X("lam:Q"), y=Y("flux:Q"), y2="y2:Q",
)

line_text = alt.Chart(label_df).mark_text(
    angle=270, align="left", baseline="middle", font="Liberation Sans",
    fontWeight="bold", fontSize=12, color="#a8a8a8").encode(
    x=X("lam:Q"), y=Y("flux:Q"), text="t:N",
)

names = alt.Chart(name_df).mark_text(
    align="center", baseline="middle", font=SERIF, fontSize=20, color="black").encode(
    x=X("lam:Q"), y=Y("flux:Q"), text="t:N",
)

def xticks(vals, length, top):
    df = pd.DataFrame({"lam": vals})
    if top:
        y0, y1 = alt.value(0), alt.value(length)
    else:
        y0, y1 = alt.value(H), alt.value(H - length)
    return alt.Chart(df).mark_rule(color="black", strokeWidth=1.2).encode(
        x=X("lam:Q"), y=y0, y2=y1)

def yticks(vals, length, right):
    df = pd.DataFrame({"flux": vals})
    if right:
        x0, x1 = alt.value(W), alt.value(W - length)
    else:
        x0, x1 = alt.value(0), alt.value(length)
    return alt.Chart(df).mark_rule(color="black", strokeWidth=1.2).encode(
        y=Y("flux:Q"), x=x0, x2=x1)

ticks = [
    xticks(X_MINOR, 10, False), xticks(X_MINOR, 10, True),
    xticks(X_MAJOR, 20, False), xticks(X_MAJOR, 20, True),
    yticks(Y_MINOR, 10, False), yticks(Y_MINOR, 10, True),
    yticks(Y_MAJOR, 20, False), yticks(Y_MAJOR, 20, True),
]

chart = alt.layer(spec, dotted, line_text, names, *ticks).properties(
    width=W, height=H,
    autosize=alt.AutoSizeParams(type="none"),
    padding={"left": 116, "top": 22, "right": 17, "bottom": 102},
).configure_view(stroke="black", strokeWidth=1.6).configure(background="white")

chart.save("out.html", embed_options={"renderer": "svg", "actions": False})
